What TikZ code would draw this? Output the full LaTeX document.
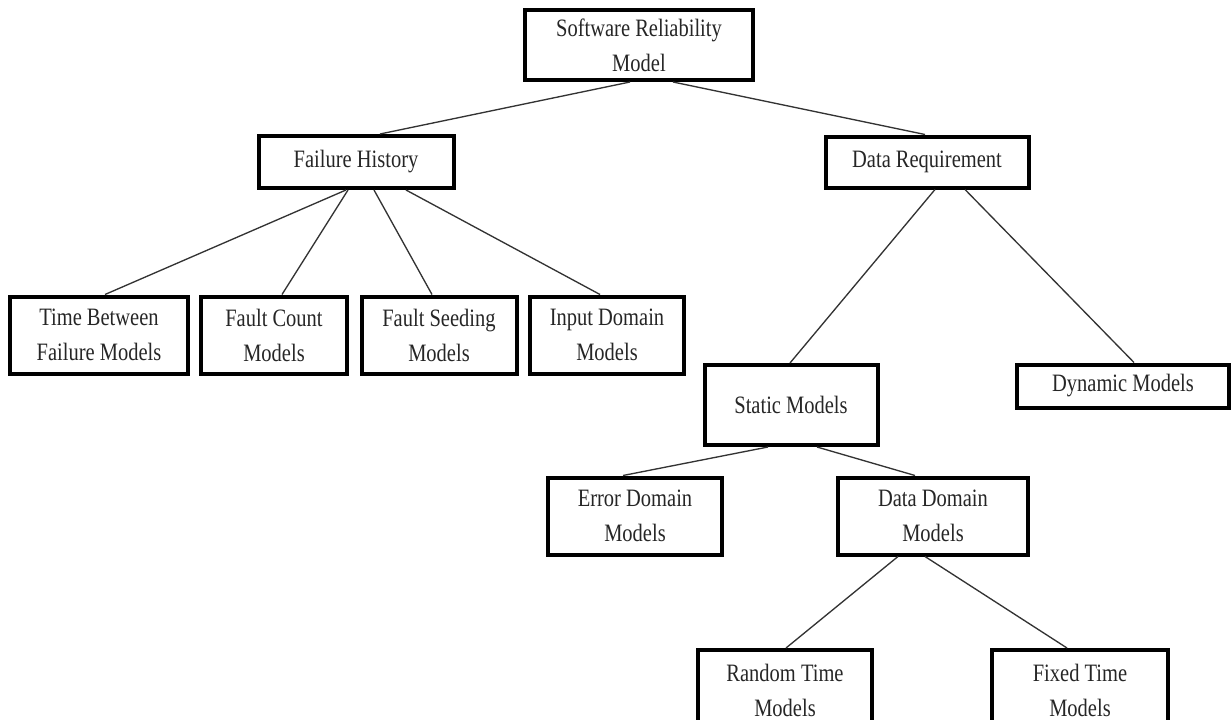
\documentclass[tikz,border=0pt]{standalone}
\usepackage{fontspec}
\setmainfont{Liberation Serif}[FakeStretch=0.82]
\usetikzlibrary{calc}

\begin{document}
\begin{tikzpicture}[
    x=0.6pt, y=-0.6pt,
    every node/.style={font=\fontsize{15}{21}\selectfont, text=black!85},
    box/.style 2 args={draw, line width=2.4pt, align=center, inner sep=0pt, minimum width=#1*0.6pt, minimum height=#2*0.6pt},
    link/.style={line width=0.8pt, black!80}
    ]
    \useasboundingbox (0,0) rectangle (1231,720);

    \node[box={228}{70}] (root) at (639,45) {Software Reliability \\ Model};

    \node[box={195}{52}] (history) at (356,162) {Failure History};
    \node[box={203}{51}] (datareq) at (927,162) {Data Requirement};

    \node[box={178}{77}] (tbf) at (99,335) {Time Between \\ Failure Models};
    \node[box={146}{77}] (count) at (274,335) {Fault Count \\ Models};
    \node[box={155}{77}] (seeding) at (439,335) {Fault Seeding \\ Models};
    \node[box={154}{77}] (input) at (607,335) {Input Domain \\ Models};

    \node[box={173}{80}] (static) at (791,405) {Static Models};
    \node[box={212}{43}] (dynamic) at (1123,386) {Dynamic Models};

    \node[box={174}{77}] (error) at (635,516) {Error Domain \\ Models};
    \node[box={190}{77}] (datadom) at (933,516) {Data Domain \\ Models};

    \node[box={174}{80}] (random) at (785,690) {Random Time \\ Models};
    \node[box={176}{80}] (fixed) at (1080,690) {Fixed Time \\ Models};

    \draw[link] ($(root.south)+(-9,0)$) -- ($(history.north)+(24,0)$);
    \draw[link] ($(root.south)+(34,0)$) -- ($(datareq.north)+(-2,0)$);

    \draw[link] ($(history.south)+(-10,0)$) -- ($(tbf.north)+(6,0)$);
    \draw[link] ($(history.south)+(-8,0)$) -- ($(count.north)+(8,0)$);
    \draw[link] ($(history.south)+(18,0)$) -- ($(seeding.north)+(-7,0)$);
    \draw[link] ($(history.south)+(50,0)$) -- ($(input.north)+(-7,0)$);

    \draw[link] ($(datareq.south)+(8,0)$) -- ($(static.north)+(-1,0)$);
    \draw[link] ($(datareq.south)+(38,0)$) -- ($(dynamic.north)+(11,0)$);

    \draw[link] ($(static.south)+(-23,0)$) -- ($(error.north)+(-12,0)$);
    \draw[link] ($(static.south)+(26,0)$) -- ($(datadom.north)+(-18,0)$);

    \draw[link] ($(datadom.south)+(-35,0)$) -- ($(random.north)+(1,0)$);
    \draw[link] ($(datadom.south)+(-8,0)$) -- ($(fixed.north)+(-13,0)$);
\end{tikzpicture}
\end{document}
